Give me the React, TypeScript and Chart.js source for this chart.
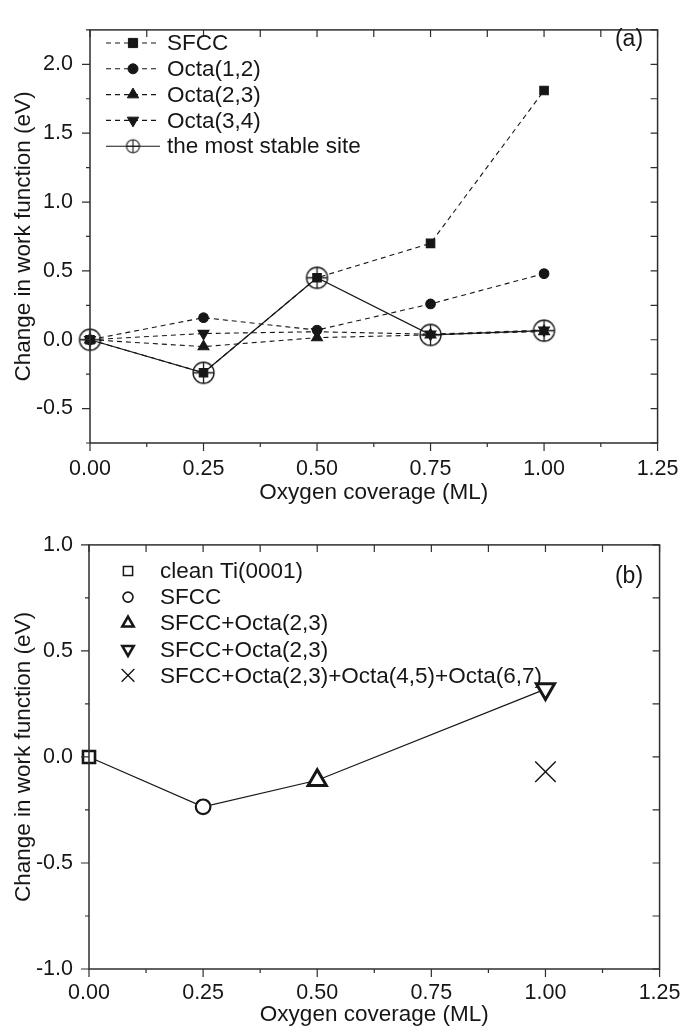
import React, { useEffect, useRef } from "react";
import { Chart, registerables } from "chart.js";
import { drawPoint } from "chart.js/helpers";
Chart.register(...registerables);

// ---------- data: panel (a) ----------
const coverageA = [0, 0.25, 0.5, 0.75, 1.0];
const sfccA = [0, -0.24, 0.45, 0.70, 1.81];
const octa12A = [0, 0.16, 0.07, 0.26, 0.48];
const octa23A = [0, -0.05, 0.015, 0.035, 0.06];
const octa34A = [0, 0.045, 0.058, 0.04, 0.07];
const stableA = [0, -0.24, 0.45, 0.035, 0.066];
const labelsA = ["SFCC", "Octa(1,2)", "Octa(2,3)", "Octa(3,4)", "the most stable site"];

// ---------- data: panel (b) ----------
const coverageB = [0, 0.25, 0.5, 1.0, 1.0];
const valuesB = [0, -0.235, -0.11, 0.32, -0.07];
const labelsB = ["clean Ti(0001)", "SFCC", "SFCC+Octa(2,3)", "SFCC+Octa(2,3)", "SFCC+Octa(2,3)+Octa(4,5)+Octa(6,7)"];
const lineIdxB = [0, 1, 2, 3]; // points joined by the solid line

const xTickStep = 0.125;
const FONT = "'Liberation Sans', Arial, Helvetica, sans-serif";
const FS_TICK = 21.5;
const FS_TITLE = 22.5;
const FS_LEG = 22.5;
const INK = "#161616";

function fmt(step: number, dec: number) {
  return (v: any) => {
    const n = Number(v);
    const k = n / step;
    if (Math.abs(k - Math.round(k)) > 1e-6) return "";
    return (Math.abs(n) < 1e-9 ? 0 : n).toFixed(dec);
  };
}

function isMult(v: number, step: number) {
  const k = v / step;
  return Math.abs(k - Math.round(k)) < 1e-6;
}

function makeOplus(r: number, lw: number) {
  const s = Math.ceil(2 * r + 4);
  const c = document.createElement("canvas");
  c.width = s;
  c.height = s;
  const g = c.getContext("2d")!;
  g.strokeStyle = INK;
  g.lineWidth = lw;
  const m = s / 2;
  g.beginPath();
  g.arc(m, m, r, 0, Math.PI * 2);
  g.stroke();
  g.beginPath();
  g.moveTo(m - r, m);
  g.lineTo(m + r, m);
  g.moveTo(m, m - r);
  g.lineTo(m, m + r);
  g.stroke();
  return c;
}

const framePlugin = {
  id: "frame",
  afterDraw(chart: any, _args: any, opts: any) {
    const { ctx, chartArea } = chart;
    const { left, right, top, bottom } = chartArea;
    const xs = chart.scales.x;
    const ys = chart.scales.y;
    ctx.save();
    ctx.strokeStyle = "#2e2e2e";
    ctx.lineWidth = 1.5;
    ctx.strokeRect(left, top, right - left, bottom - top);
    ctx.lineWidth = 1.2;
    ctx.beginPath();
    xs.ticks.forEach((t: any) => {
      const px = xs.getPixelForValue(t.value);
      const major = isMult(t.value, opts.xMajor);
      ctx.moveTo(px, bottom);
      ctx.lineTo(px, bottom + (major ? 8 : 4));
      ctx.moveTo(px, top);
      ctx.lineTo(px, top + 7);
    });
    ys.ticks.forEach((t: any) => {
      const py = ys.getPixelForValue(t.value);
      const major = isMult(t.value, opts.yMajor);
      ctx.moveTo(left, py);
      ctx.lineTo(left - (major ? 8 : 4), py);
      ctx.moveTo(right, py);
      ctx.lineTo(right - 7, py);
    });
    ctx.stroke();
    ctx.restore();
  },
};

const legendPlugin = {
  id: "sampleLegend",
  afterDraw(chart: any, _args: any, opts: any) {
    const { ctx } = chart;
    ctx.save();
    ctx.font = `${FS_LEG}px ${FONT}`;
    ctx.textBaseline = "middle";
    ctx.textAlign = "left";
    opts.items.forEach((it: any, i: number) => {
      const y = opts.y0 + i * opts.dy;
      if (it.line) {
        ctx.beginPath();
        ctx.strokeStyle = INK;
        ctx.lineWidth = 1.1;
        ctx.setLineDash(it.dash || []);
        ctx.moveTo(opts.lineFrom, y);
        ctx.lineTo(opts.lineTo, y);
        ctx.stroke();
        ctx.setLineDash([]);
      }
      ctx.fillStyle = it.fill;
      ctx.strokeStyle = INK;
      ctx.lineWidth = it.borderWidth;
      drawPoint(ctx, { pointStyle: it.style, rotation: it.rotation || 0, radius: it.radius, borderWidth: it.borderWidth }, opts.markerX, y);
      ctx.fillStyle = INK;
      ctx.fillText(it.label, opts.textX, y + 1);
    });
    ctx.font = `23px ${FONT}`;
    ctx.textAlign = "center";
    ctx.fillStyle = INK;
    ctx.fillText(opts.panel, opts.panelX, opts.panelY);
    ctx.restore();
  },
};

function axisCommon(step: number, dec: number, pad: number, title: string, titlePad: any) {
  return {
    type: "linear",
    ticks: {
      stepSize: step,
      autoSkip: false,
      maxRotation: 0,
      padding: pad,
      color: INK,
      font: { family: FONT, size: FS_TICK },
      callback: fmt(step === xTickStep ? 0.25 : 0.5, dec),
    },
    grid: { display: false, drawTicks: false, tickLength: 0 },
    border: { display: false },
    title: { display: true, text: title, color: INK, font: { family: FONT, size: FS_TITLE }, padding: titlePad },
  };
}

function pts(xs: number[], ys: number[]) {
  return xs.map((x, i) => ({ x, y: ys[i] }));
}

function buildA(): any {
  const oplus = makeOplus(10.5, 1.3);
  const oplusSmall = makeOplus(6.5, 1.1);
  const dash = [5, 4];
  const base = { showLine: true, clip: false, borderColor: INK, backgroundColor: INK, pointBorderColor: INK, pointBackgroundColor: INK, borderWidth: 1.1 };
  const datasets = [
    { ...base, label: labelsA[4], data: pts(coverageA, stableA), pointStyle: oplus, pointRadius: 10, borderWidth: 1.2 },
    { ...base, label: labelsA[0], data: pts(coverageA, sfccA), borderDash: dash, pointStyle: "rect", pointRadius: 6 },
    { ...base, label: labelsA[1], data: pts(coverageA, octa12A), borderDash: dash, pointStyle: "circle", pointRadius: 4.8 },
    { ...base, label: labelsA[2], data: pts(coverageA, octa23A), borderDash: dash, pointStyle: "triangle", pointRadius: 6.3 },
    { ...base, label: labelsA[3], data: pts(coverageA, octa34A), borderDash: dash, pointStyle: "triangle", pointRotation: 180, pointRadius: 6.3 },
  ];
  const x = { ...axisCommon(xTickStep, 2, 13.5, "Oxygen coverage (ML)", { top: 0, bottom: 10 }), min: 0, max: 1.25, afterFit: (s: any) => { s.height = 73; } };
  const y = { ...axisCommon(0.25, 1, 17, "Change in work function (eV)", { top: 10, bottom: 0 }), min: -0.75, max: 2.25, afterFit: (s: any) => { s.width = 90; } };
  return {
    type: "scatter",
    data: { datasets },
    plugins: [framePlugin, legendPlugin],
    options: {
      responsive: false,
      animation: false,
      layout: { padding: { top: 16, right: 23, left: 0, bottom: 0 } },
      scales: { x, y },
      plugins: {
        legend: { display: false },
        tooltip: { enabled: false },
        frame: { xMajor: 0.25, yMajor: 0.5 },
        sampleLegend: {
          y0: 43, dy: 25.8, lineFrom: 106, lineTo: 160, markerX: 133, textX: 167,
          panel: "(a)", panelX: 629, panelY: 40,
          items: [
            { label: labelsA[0], line: true, dash, style: "rect", radius: 6.5, borderWidth: 1, fill: INK },
            { label: labelsA[1], line: true, dash, style: "circle", radius: 5, borderWidth: 1, fill: INK },
            { label: labelsA[2], line: true, dash, style: "triangle", radius: 6.5, borderWidth: 1, fill: INK },
            { label: labelsA[3], line: true, dash, style: "triangle", rotation: 180, radius: 6.5, borderWidth: 1, fill: INK },
            { label: labelsA[4], line: true, dash: [], style: oplusSmall, radius: 6.5, borderWidth: 1, fill: "rgba(0,0,0,0)" },
          ],
        },
      },
    },
  };
}

function buildB(): any {
  const styles = [
    { pointStyle: "rect", pointRadius: 8.5, pointBorderWidth: 2.6, pointRotation: 0 },
    { pointStyle: "circle", pointRadius: 7.3, pointBorderWidth: 2.2, pointRotation: 0 },
    { pointStyle: "triangle", pointRadius: 10.5, pointBorderWidth: 3, pointRotation: 0 },
    { pointStyle: "triangle", pointRadius: 10.5, pointBorderWidth: 3, pointRotation: 180 },
    { pointStyle: "crossRot", pointRadius: 14.5, pointBorderWidth: 1.5, pointRotation: 0 },
  ];
  const markers = labelsB.map((label, i) => ({
    label,
    data: [{ x: coverageB[i], y: valuesB[i] }],
    showLine: false,
    clip: false,
    pointBackgroundColor: "#ffffff",
    pointBorderColor: INK,
    ...styles[i],
  }));
  const line = {
    label: "line",
    data: lineIdxB.map((i) => ({ x: coverageB[i], y: valuesB[i] })),
    showLine: true,
    clip: false,
    borderColor: INK,
    borderWidth: 1.2,
    pointRadius: 0,
  };
  const x = { ...axisCommon(xTickStep, 2, 11.5, "Oxygen coverage (ML)", { top: 0, bottom: 4 }), min: 0, max: 1.25, afterFit: (s: any) => { s.height = 63; } };
  const y = { ...axisCommon(0.25, 1, 16, "Change in work function (eV)", { top: 10, bottom: 0 }), min: -1, max: 1, afterFit: (s: any) => { s.width = 89; } };
  const legendSizes = [
    { style: "rect", radius: 6.5, borderWidth: 1.5 },
    { style: "circle", radius: 5, borderWidth: 1.6 },
    { style: "triangle", radius: 6.5, borderWidth: 2.6 },
    { style: "triangle", rotation: 180, radius: 6.5, borderWidth: 2.6 },
    { style: "crossRot", radius: 9, borderWidth: 1.4 },
  ];
  return {
    type: "scatter",
    data: { datasets: [...markers, line] },
    plugins: [framePlugin, legendPlugin],
    options: {
      responsive: false,
      animation: false,
      layout: { padding: { top: 25, right: 23, left: 0, bottom: 0 } },
      scales: { x, y },
      plugins: {
        legend: { display: false },
        tooltip: { enabled: false },
        frame: { xMajor: 0.25, yMajor: 0.5 },
        sampleLegend: {
          y0: 55, dy: 26.1, lineFrom: 0, lineTo: 0, markerX: 128, textX: 160,
          panel: "(b)", panelX: 629, panelY: 61,
          items: labelsB.map((label, i) => ({ label, line: false, fill: "#ffffff", ...legendSizes[i] })),
        },
      },
    },
  };
}

function ChartCanvas({ build, top }: { build: () => any; top: number }) {
  const ref = useRef<HTMLCanvasElement | null>(null);
  useEffect(() => {
    if (!ref.current) return;
    const chart = new Chart(ref.current, build());
    return () => chart.destroy();
  }, [build]);
  return (
    <canvas
      ref={ref}
      width={692}
      height={516}
      style={{ position: "absolute", left: 0, top, width: 692, height: 516, display: "block" }}
    />
  );
}

export default function App() {
  return (
    <div style={{ position: "absolute", left: 0, top: 0, width: 692, height: 1032, background: "#ffffff" }}>
      <ChartCanvas build={buildA} top={0} />
      <ChartCanvas build={buildB} top={516} />
    </div>
  );
}
